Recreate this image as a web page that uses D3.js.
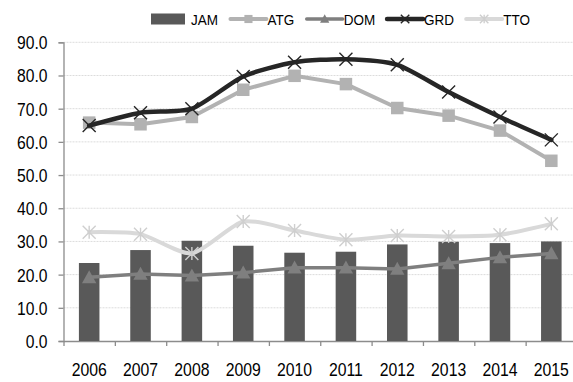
<!DOCTYPE html>
<html>
<head>
<meta charset="utf-8">
<script src="https://cdn.jsdelivr.net/npm/d3@7"></script>
<style>
  html, body { margin: 0; padding: 0; background: #fff; }
  svg { display: block; font-family: "Liberation Sans", Arial, sans-serif; }
</style>
</head>
<body>
<svg id="chart" width="573" height="382"></svg>
<script>
// Yearly values per country
const years = ["2006", "2007", "2008", "2009", "2010", "2011", "2012", "2013", "2014", "2015"];
const JAM = [23.5, 27.4, 30.2, 28.7, 26.6, 26.9, 29.1, 29.9, 29.5, 30.0];
const ATG = [65.8, 65.3, 67.5, 75.7, 79.9, 77.4, 70.2, 67.9, 63.4, 54.3];
const DOM = [19.2, 20.2, 19.7, 20.6, 22.1, 22.1, 21.7, 23.4, 25.2, 26.4];
const GRD = [64.9, 68.8, 70.0, 79.7, 84.0, 84.9, 83.2, 75.0, 67.5, 60.6];
const TTO = [32.8, 32.2, 26.4, 36.0, 33.3, 30.5, 31.8, 31.5, 32.0, 35.3];
const yTicks = [0, 10, 20, 30, 40, 50, 60, 70, 80, 90];

const svg = d3.select("#chart");
const plotLeft = 63.5, plotRight = 577, plotTop = 42.3, plotBottom = 341;

// squeeze text horizontally for a condensed look
function narrow(sel, factor) {
  sel.each(function () {
    const w = this.getComputedTextLength();
    d3.select(this).attr("textLength", w * factor).attr("lengthAdjust", "spacingAndGlyphs");
  });
}

const x = d3.scaleBand().domain(years).range([plotLeft, plotRight]).paddingInner(0.6).paddingOuter(0.3);
const xc = d => x(d) + x.bandwidth() / 2;
const xEdge = d3.scaleLinear().domain([0, years.length]).range([plotLeft, plotRight]);
const y = d3.scaleLinear().domain([0, 90]).range([plotBottom, plotTop]);

// horizontal gridlines
svg.append("g")
  .selectAll("line").data(yTicks.filter(v => v > 0)).join("line")
  .attr("x1", plotLeft).attr("x2", 573)
  .attr("y1", d => y(d)).attr("y2", d => y(d))
  .attr("stroke", "#dcdcdc").attr("stroke-width", 1).attr("stroke-dasharray", "2,1");

// y axis
const yAxis = svg.append("g").attr("transform", `translate(${plotLeft},0)`)
  .call(d3.axisLeft(y).tickValues(yTicks).tickFormat(d3.format(".1f")).tickSize(5).tickPadding(11));
yAxis.attr("font-family", null).attr("font-size", null);
yAxis.select(".domain").attr("stroke", "#8c8c8c").attr("stroke-width", 1.3);
yAxis.selectAll(".tick line").attr("stroke", "#8c8c8c").attr("stroke-width", 1.3);
yAxis.selectAll("text").attr("font-size", 18).attr("fill", "#000").attr("dy", "0.36em");
narrow(yAxis.selectAll("text"), 0.87);

// x axis: boundary ticks + centred year labels
const xTicks = svg.append("g").attr("transform", `translate(0,${plotBottom})`)
  .call(d3.axisBottom(xEdge).tickValues(d3.range(0, years.length + 1)).tickFormat("").tickSize(5).tickSizeOuter(0));
xTicks.select(".domain").attr("stroke", "#8c8c8c").attr("stroke-width", 1.3);
xTicks.selectAll(".tick line").attr("stroke", "#8c8c8c").attr("stroke-width", 1.3);

const xLabels = svg.append("g").attr("transform", `translate(0,${plotBottom})`)
  .call(d3.axisBottom(x).tickSize(0).tickPadding(22));
xLabels.attr("font-family", null).attr("font-size", null);
xLabels.select(".domain").remove();
xLabels.selectAll("text").attr("font-size", 19).attr("fill", "#000");
narrow(xLabels.selectAll("text"), 0.83);

// JAM bars
svg.append("g").selectAll("rect").data(JAM).join("rect")
  .attr("x", (d, i) => x(years[i]))
  .attr("width", x.bandwidth())
  .attr("y", d => y(d))
  .attr("height", d => y(0) - y(d))
  .attr("fill", "#595959");

// marker painters
const markers = {
  square: (g, c, s) => g.append("rect").attr("x", -s / 2).attr("y", -s / 2).attr("width", s).attr("height", s).attr("fill", c),
  triangle: (g, c, s) => g.append("path").attr("d", `M0,${-s * 0.55}L${s * 0.55},${s * 0.45}L${-s * 0.55},${s * 0.45}Z`).attr("fill", c),
  cross: (g, c, s) => g.append("path").attr("d", `M${-s / 2},${-s / 2}L${s / 2},${s / 2}M${s / 2},${-s / 2}L${-s / 2},${s / 2}`)
    .attr("stroke", c).attr("stroke-width", 1.4).attr("fill", "none"),
  star: (g, c, s) => g.append("path").attr("d", `M${-s / 2},${-s / 2}L${s / 2},${s / 2}M${s / 2},${-s / 2}L${-s / 2},${s / 2}M0,${-s / 2}L0,${s / 2}`)
    .attr("stroke", c).attr("stroke-width", 1.4).attr("fill", "none")
};

const series = [
  { name: "ATG", values: ATG, color: "#b2b2b2", mcolor: "#b2b2b2", width: 4, marker: "square", size: 12.5, curve: d3.curveLinear },
  { name: "DOM", values: DOM, color: "#7f7f7f", mcolor: "#7f7f7f", width: 3.5, marker: "triangle", size: 13, curve: d3.curveLinear },
  { name: "GRD", values: GRD, color: "#262626", mcolor: "#262626", width: 4.5, marker: "cross", size: 13, curve: d3.curveCardinal.tension(0.3) },
  { name: "TTO", values: TTO, color: "#d9d9d9", mcolor: "#cfcfcf", width: 4, marker: "star", size: 13, curve: d3.curveCardinal.tension(0.3) }
];

series.forEach(s => {
  const line = d3.line().x((d, i) => xc(years[i])).y(d => y(d)).curve(s.curve);
  svg.append("path").datum(s.values).attr("d", line)
    .attr("fill", "none").attr("stroke", s.color).attr("stroke-width", s.width)
    .attr("stroke-linejoin", "round").attr("stroke-linecap", "round");
  const g = svg.append("g");
  s.values.forEach((v, i) => {
    const m = g.append("g").attr("transform", `translate(${xc(years[i])},${y(v)})`);
    markers[s.marker](m, s.mcolor, s.size);
  });
});

// legend
const legend = svg.append("g");
let cx = 151;
const ly = 19;
const legendItems = [{ name: "JAM", bar: true }].concat(series);
legendItems.forEach(s => {
  if (s.bar) {
    legend.append("rect").attr("x", cx).attr("y", ly - 5.5).attr("width", 34).attr("height", 11).attr("fill", "#595959");
    cx += 40;
  } else {
    legend.append("line").attr("x1", cx).attr("x2", cx + 36).attr("y1", ly).attr("y2", ly)
      .attr("stroke", s.color).attr("stroke-width", s.width).attr("stroke-linecap", "round");
    const m = legend.append("g").attr("transform", `translate(${cx + 18},${ly})`);
    markers[s.marker](m, s.mcolor, s.size * 0.65);
    cx += 37;
  }
  const t = legend.append("text").attr("x", cx).attr("y", ly).attr("dy", "0.36em")
    .attr("font-size", 15.5).attr("fill", "#000").text(s.name);
  narrow(t, 0.87);
  cx += t.node().getComputedTextLength() * 0.87 + 16;
});
</script>
</body>
</html>
